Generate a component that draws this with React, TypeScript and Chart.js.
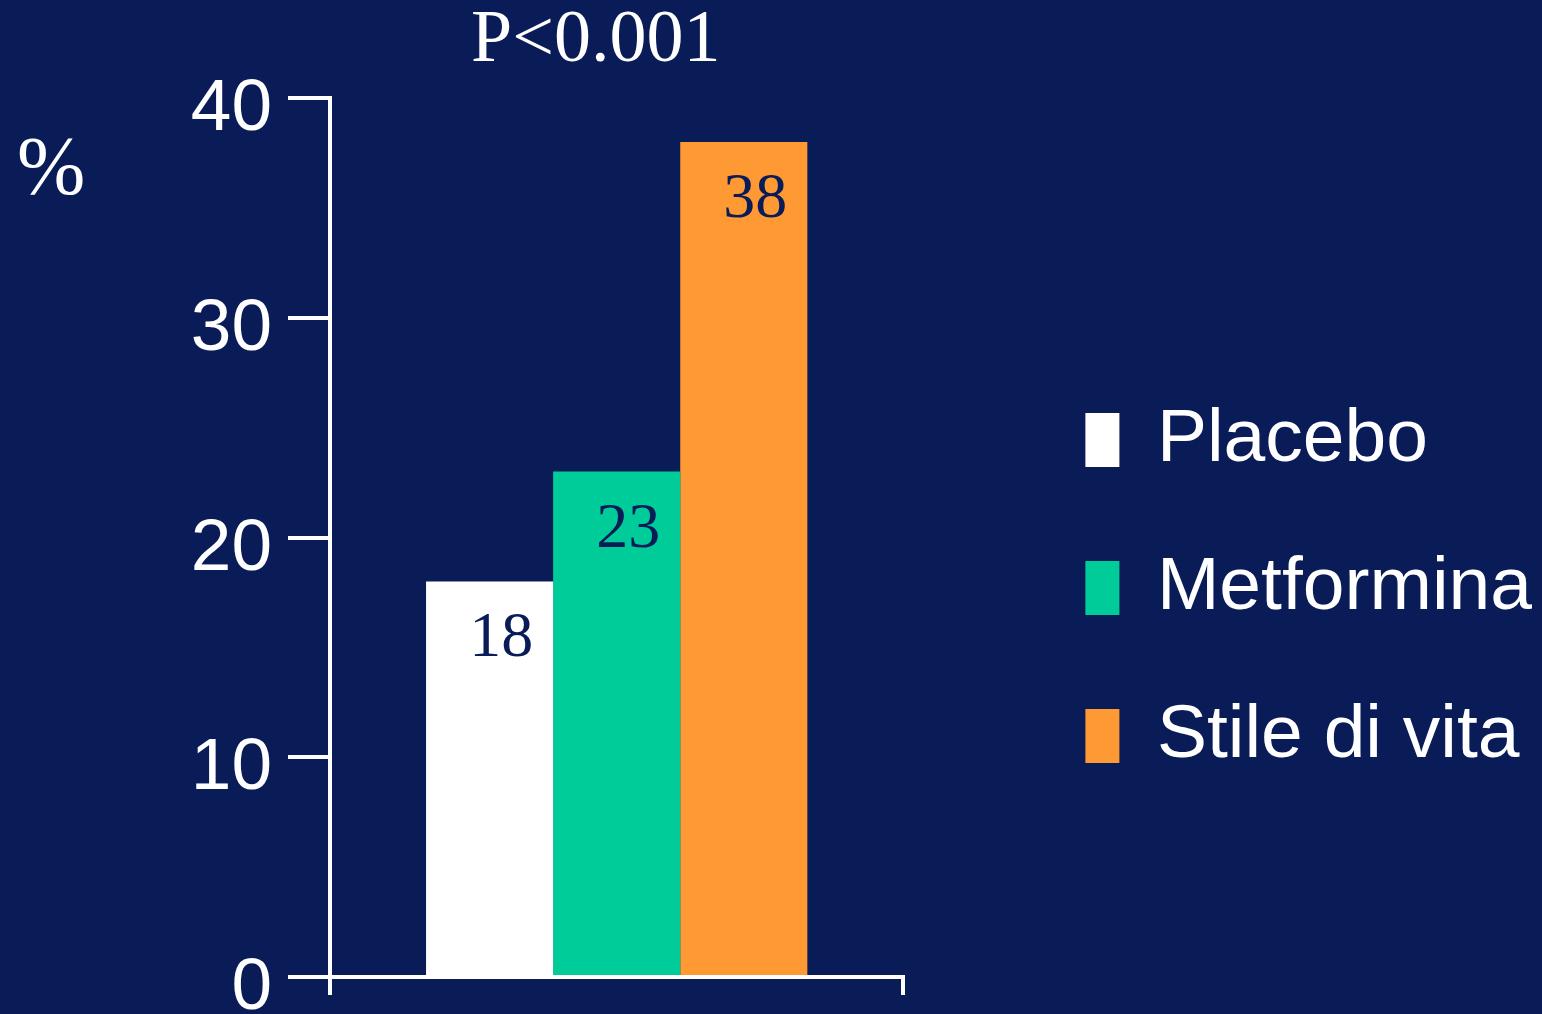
import React, { useEffect, useRef } from "react";
import { Chart, registerables } from "chart.js";

Chart.register(...registerables);

// ---- data ----
const categories = [""];
const seriesNames = ["Placebo", "Metformina", "Stile di vita"];
const seriesValues = [18, 23, 38];
const seriesColors = ["#ffffff", "#00cc99", "#ff9933"];
const yTicks = [0, 10, 20, 30, 40];
const pValueText = "P<0.001";
const yUnit = "%";

const BG = "#0a1c57";
const SANS = "'Liberation Sans', Arial, sans-serif";
const SERIF = "'Liberation Serif', 'Times New Roman', serif";

const overlayPlugin = {
  id: "overlayText",
  afterDatasetsDraw(chart: any) {
    const ctx = chart.ctx;
    const area = chart.chartArea;
    ctx.save();
    // value labels inside bars
    ctx.fillStyle = BG;
    ctx.font = `64px ${SERIF}`;
    ctx.textAlign = "right";
    ctx.textBaseline = "alphabetic";
    chart.data.datasets.forEach((ds: any, i: number) => {
      const meta = chart.getDatasetMeta(i);
      meta.data.forEach((bar: any, j: number) => {
        const { x, y, width } = bar.getProps(["x", "y", "width"], true);
        ctx.fillText(String(ds.data[j]), x + width / 2 - 20, y + 75);
      });
    });
    // p-value heading
    const xs = chart.scales.x;
    ctx.fillStyle = "#ffffff";
    ctx.font = `74px ${SERIF}`;
    ctx.textAlign = "center";
    ctx.fillText(pValueText, (xs.left + xs.right) / 2 - 21, area.top - 37);
    // unit
    ctx.textAlign = "left";
    ctx.font = `82px ${SERIF}`;
    ctx.fillText(yUnit, 17, area.top + 95);
    ctx.restore();
  },
};

export default function App() {
  const canvasRef = useRef<HTMLCanvasElement | null>(null);

  useEffect(() => {
    if (!canvasRef.current) return;
    const chart = new Chart(canvasRef.current, {
      type: "bar",
      data: {
        labels: categories,
        datasets: seriesNames.map((name, i) => ({
          label: name,
          data: [seriesValues[i]],
          backgroundColor: seriesColors[i],
          borderWidth: 0,
          categoryPercentage: 0.665,
          barPercentage: 1,
        })),
      },
      options: {
        animation: false,
        responsive: true,
        maintainAspectRatio: false,
        layout: { padding: { left: 0, top: 98, right: 0, bottom: 19 } },
        plugins: {
          title: { display: false },
          tooltip: { enabled: false },
          legend: {
            position: "right",
            fullSize: false,
            maxWidth: 700,
            title: { display: true, text: "", font: { size: 1 }, padding: { top: 100, bottom: 0 } },
            labels: {
              color: "#ffffff",
              font: { family: SANS, size: 75 },
              boxWidth: 34,
              boxHeight: 54,
              padding: 73,
            },
          },
        },
        scales: {
          x: {
            type: "category",
            grid: {
              offset: true,
              drawOnChartArea: false,
              drawTicks: true,
              tickLength: 18,
              color: "#ffffff",
              lineWidth: 4,
            },
            border: { display: true, color: "#ffffff", width: 4 },
            ticks: { display: false },
          },
          y: {
            min: 0,
            max: 40,
            afterBuildTicks: (s: any) => {
              s.ticks = yTicks.map((v) => ({ value: v }));
            },
            afterFit: (s: any) => {
              s.width = 330;
              s.paddingTop = 0;
              s.paddingBottom = 0;
            },
            grid: {
              drawOnChartArea: false,
              drawTicks: true,
              tickLength: 42,
              color: "#ffffff",
              lineWidth: 4,
            },
            border: { display: true, color: "#ffffff", width: 4 },
            ticks: {
              color: "#ffffff",
              font: { family: SANS, size: 73 },
              padding: 16,
              labelOffset: 12,
            },
          },
          spacer: {
            type: "linear",
            position: "right",
            display: true,
            grid: { display: false, drawTicks: false },
            border: { display: false },
            ticks: { display: false },
            afterFit: (s: any) => {
              s.width = 109;
            },
          },
        },
      },
      plugins: [overlayPlugin],
    } as any);
    return () => chart.destroy();
  }, []);

  return (
    <div
      style={{
        position: "absolute",
        left: 0,
        top: 0,
        width: 1542,
        height: 1014,
        background: BG,
      }}
    >
      <canvas ref={canvasRef} />
    </div>
  );
}
